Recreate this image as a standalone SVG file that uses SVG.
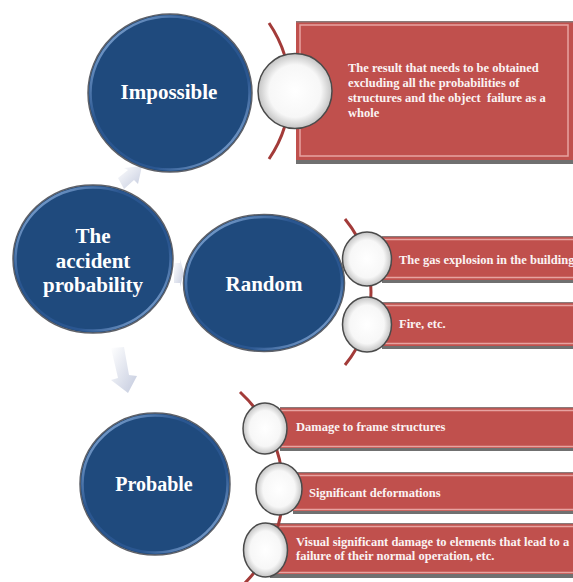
<svg xmlns="http://www.w3.org/2000/svg" width="573" height="582" viewBox="0 0 573 582">
<defs>
<radialGradient id="wg" cx="0.5" cy="0.5" r="0.5">
<stop offset="0" stop-color="#ffffff"/>
<stop offset="0.7" stop-color="#f7f7f7"/>
<stop offset="1" stop-color="#c4c4c4"/>
</radialGradient>
<linearGradient id="ring" x1="0" y1="0" x2="1" y2="1">
<stop offset="0" stop-color="#9cbfe8"/>
<stop offset="0.35" stop-color="#2a5690"/>
<stop offset="0.7" stop-color="#2a5690"/>
<stop offset="1" stop-color="#a9c8ee"/>
</linearGradient>
<linearGradient id="ag" x1="0" y1="0" x2="1" y2="1">
<stop offset="0" stop-color="#ffffff"/>
<stop offset="1" stop-color="#b9c1d8"/>
</linearGradient>
</defs>
<style>
.blue{fill:#1f4a7d;stroke:#5d6068;stroke-width:1.5}
.ring{fill:none;stroke:url(#ring);stroke-width:2.5}
.red{fill:#c0504d}
.sh{fill:#707070}
.pk{fill:none;stroke:#e7a3a1;stroke-width:1.5}
.top{fill:#8a7a7a}
.wc{fill:url(#wg);stroke:#4a4a4a;stroke-width:1.5}
.arc{fill:none;stroke:#a33b39;stroke-width:3}
.big{font-family:"Liberation Serif","Times New Roman",serif;font-weight:bold;font-size:21px;fill:#ffffff;text-anchor:middle}
.sm{font-family:"Liberation Serif","Times New Roman",serif;font-weight:bold;font-size:12.5px;fill:#fbf3f3}
.arw{fill:url(#ag);opacity:0.85}
</style>

<g id="connectors">
<polygon class="arw" points="118,178 128,170 124,168 142,166 138,184 134,180 124,189"/>
<polygon class="arw" points="174,263 180,263 180,259 184,273 180,287 180,283 174,283"/>
<polygon class="arw" points="111,348 124,347 129,375 137,376 128,393 111,380 118,378"/>
</g>

<g id="node-impossible-detail">
<rect class="red" x="296" y="21" width="277" height="140"/>
<rect class="top" x="296" y="21" width="277" height="1.5"/>
<rect class="sh" x="296" y="160" width="277" height="4"/>
<rect class="pk" x="300" y="25" width="268" height="131"/>
<path class="arc" d="M269,23 A121,121 0 0 1 269,159"/>
<ellipse class="wc" cx="295" cy="91" rx="37" ry="37.5"/>
<text class="sm" x="348" y="72">The result that needs to be obtained</text>
<text class="sm" x="348" y="87">excluding all the probabilities of</text>
<text class="sm" x="348" y="102">structures and the object&#160; failure as a</text>
<text class="sm" x="348" y="117">whole</text>
</g>

<g id="node-impossible">
<ellipse class="blue" cx="170" cy="93" rx="82" ry="79"/>
<ellipse class="ring" cx="170" cy="93" rx="79.5" ry="76.5"/>
<text class="big" x="169" y="99">Impossible</text>
</g>

<g id="node-accident">
<ellipse class="blue" cx="93" cy="259" rx="80" ry="74"/>
<ellipse class="ring" cx="93" cy="259" rx="77.5" ry="71.5"/>
<text class="big" x="93" y="243">The</text>
<text class="big" x="93" y="268">accident</text>
<text class="big" x="93" y="292">probability</text>
</g>

<g id="node-random-details">
<rect class="red" x="382" y="236" width="191" height="45"/>
<rect class="top" x="382" y="236" width="191" height="1.2"/>
<rect class="sh" x="382" y="280" width="191" height="3"/>
<path class="pk" d="M382,239.5 H573 M382,277.5 H573"/>
<rect class="red" x="382" y="302" width="191" height="45"/>
<rect class="top" x="382" y="302" width="191" height="1.2"/>
<rect class="sh" x="382" y="346" width="191" height="3"/>
<path class="pk" d="M382,305.5 H573 M382,343.5 H573"/>
<path class="arc" d="M345,219 A115.5,115.5 0 0 1 345,365"/>
</g>

<g id="node-random">
<ellipse class="blue" cx="264" cy="283" rx="80.5" ry="68.5"/>
<ellipse class="ring" cx="264" cy="283" rx="78" ry="66"/>
<text class="big" x="264" y="291">Random</text>
</g>

<g id="node-gas">
<ellipse class="wc" cx="367" cy="259" rx="24.5" ry="27"/>
<text class="sm" x="399" y="264">The gas explosion in the building</text>
</g>
<g id="node-fire">
<ellipse class="wc" cx="367" cy="324.5" rx="24.5" ry="27.5"/>
<text class="sm" x="399" y="328">Fire, etc.</text>
</g>

<g id="node-probable-details">
<rect class="red" x="280" y="407" width="293" height="42"/>
<rect class="top" x="280" y="407" width="293" height="1.2"/>
<rect class="sh" x="280" y="448" width="293" height="3"/>
<path class="pk" d="M280,410.5 H573 M280,446.5 H573"/>
<rect class="red" x="293" y="472" width="280" height="40"/>
<rect class="top" x="293" y="472" width="280" height="1.2"/>
<rect class="sh" x="293" y="511" width="280" height="3"/>
<path class="pk" d="M293,475.5 H573 M293,509.5 H573"/>
<rect class="red" x="270" y="523" width="303" height="52"/>
<rect class="top" x="270" y="523" width="303" height="1.2"/>
<rect class="sh" x="270" y="574" width="303" height="4"/>
<path class="pk" d="M270,526.5 H573 M270,572.5 H573"/>
<path class="arc" d="M240,392 A133,133 0 0 1 244,584"/>
</g>

<g id="node-probable">
<ellipse class="blue" cx="155" cy="484" rx="75" ry="71"/>
<ellipse class="ring" cx="155" cy="484" rx="72.5" ry="68.5"/>
<text class="big" x="154" y="491" style="font-size:20px">Probable</text>
</g>

<g id="node-damage">
<ellipse class="wc" cx="265" cy="428.5" rx="22" ry="25.5"/>
<text class="sm" x="296" y="431">Damage to frame structures</text>
</g>
<g id="node-deform">
<ellipse class="wc" cx="279" cy="489" rx="23" ry="26"/>
<text class="sm" x="309" y="497">Significant deformations</text>
</g>
<g id="node-visual">
<ellipse class="wc" cx="265.5" cy="550" rx="22" ry="27"/>
<text class="sm" x="296" y="546">Visual significant damage to elements that lead to a</text>
<text class="sm" x="296" y="560">failure of their normal operation, etc.</text>
</g>
</svg>
